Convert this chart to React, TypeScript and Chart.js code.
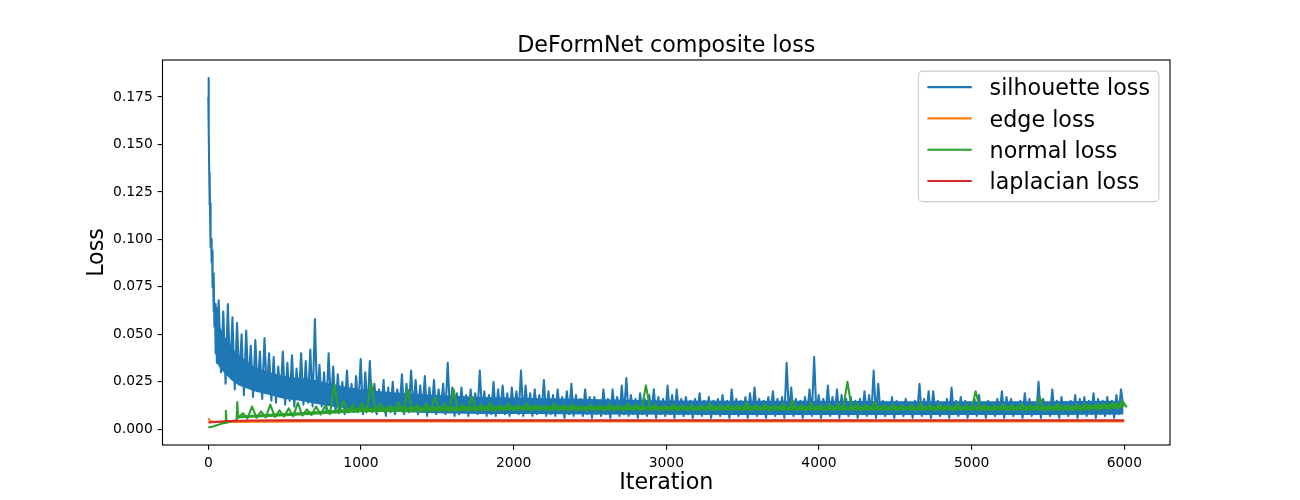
import React, { useEffect, useRef } from "react";
import { Chart, registerables } from "chart.js";

Chart.register(...registerables);

const chartTitle = "DeFormNet composite loss";
const xLabel = "Iteration";
const yLabel = "Loss";
const seriesNames = ["silhouette loss", "edge loss", "normal loss", "laplacian loss"];
const seriesColors = ["#1f77b4", "#ff7f0e", "#2ca02c", "#d62728"];
const xTicks = [0, 1000, 2000, 3000, 4000, 5000, 6000];
const yTicks = [0, 0.025, 0.05, 0.075, 0.1, 0.125, 0.15, 0.175];

// silhouette loss: first iterations, read point by point
const silHeadIter = [0, 1, 2, 3, 4, 6, 8, 10, 12, 14, 16, 19, 22, 25, 28, 31, 34, 37, 40, 44, 48, 52, 56];
const silHeadLoss = [0.175, 0.185, 0.176, 0.172, 0.158, 0.135, 0.118, 0.131, 0.112, 0.119, 0.096, 0.1, 0.088, 0.094, 0.075, 0.082, 0.062, 0.08, 0.054, 0.066, 0.04, 0.064, 0.035];
// silhouette loss afterwards: peak and trough of every 30-iteration window from iteration 60
const silWindowStart = 60;
const silWindow = 30;
const silPeak = [
  0.068, 0.062, 0.066, 0.059, 0.056, 0.05, 0.052, 0.044, 0.047, 0.041, 0.048, 0.04,
  0.038, 0.033, 0.041, 0.035, 0.039, 0.032, 0.04, 0.036, 0.042, 0.058,
  0.034, 0.03, 0.04, 0.033, 0.029, 0.025, 0.031, 0.024, 0.028, 0.037,
  0.03, 0.036, 0.024, 0.021, 0.026, 0.022, 0.025, 0.021, 0.029, 0.024,
  0.031, 0.026, 0.023, 0.028, 0.022, 0.026, 0.021, 0.024, 0.035, 0.022,
  0.019, 0.022, 0.018, 0.021, 0.019, 0.031, 0.02, 0.018, 0.025, 0.021,
  0.023, 0.019, 0.022, 0.02, 0.031, 0.023, 0.019, 0.021, 0.018, 0.026,
  0.02, 0.018, 0.021, 0.017, 0.02, 0.024, 0.018, 0.016, 0.021, 0.017,
  0.017, 0.015, 0.021, 0.016, 0.021, 0.017, 0.023, 0.027, 0.018, 0.016,
  0.019, 0.016, 0.018, 0.021, 0.017, 0.016, 0.023, 0.018, 0.021, 0.016,
  0.017, 0.015, 0.016, 0.019, 0.015, 0.017, 0.015, 0.016, 0.018, 0.015,
  0.021, 0.016, 0.015, 0.017, 0.019, 0.022, 0.016, 0.015, 0.017, 0.02,
  0.016, 0.017, 0.035, 0.022, 0.016, 0.015, 0.017, 0.021, 0.038, 0.018,
  0.016, 0.023, 0.017, 0.021, 0.018, 0.016, 0.017, 0.015, 0.016, 0.02,
  0.018, 0.031, 0.024, 0.015, 0.014, 0.017, 0.015, 0.014, 0.016, 0.014,
  0.015, 0.024, 0.016, 0.02, 0.02, 0.015, 0.014, 0.016, 0.022, 0.015,
  0.017, 0.015, 0.014, 0.016, 0.018, 0.014, 0.015, 0.014, 0.016, 0.02,
  0.017, 0.016, 0.014, 0.015, 0.019, 0.016, 0.014, 0.025, 0.016, 0.014,
  0.021, 0.015, 0.017, 0.014, 0.015, 0.018, 0.016, 0.017, 0.015, 0.019,
  0.016, 0.015, 0.017, 0.015, 0.018, 0.021,
];
const silTrough = [
  0.03, 0.024, 0.028, 0.021, 0.026, 0.018, 0.022, 0.017, 0.02, 0.016, 0.019, 0.015,
  0.014, 0.017, 0.013, 0.015, 0.012, 0.016, 0.013, 0.014, 0.012, 0.015,
  0.012, 0.01, 0.013, 0.009, 0.011, 0.008, 0.01, 0.009, 0.011, 0.008,
  0.01, 0.009, 0.008, 0.01, 0.007, 0.009, 0.008, 0.01, 0.008, 0.009,
  0.01, 0.008, 0.009, 0.007, 0.009, 0.008, 0.01, 0.008, 0.009, 0.007,
  0.008, 0.009, 0.007, 0.009, 0.008, 0.009, 0.007, 0.008, 0.007, 0.009,
  0.008, 0.007, 0.009, 0.008, 0.007, 0.009, 0.007, 0.008, 0.009, 0.007,
  0.008, 0.007, 0.009, 0.006, 0.008, 0.007, 0.009, 0.007, 0.008, 0.006,
  0.008, 0.007, 0.008, 0.006, 0.009, 0.007, 0.008, 0.007, 0.008, 0.006,
  0.008, 0.007, 0.009, 0.006, 0.008, 0.007, 0.008, 0.006, 0.008, 0.007,
  0.008, 0.006, 0.008, 0.007, 0.008, 0.006, 0.008, 0.007, 0.008, 0.006,
  0.008, 0.007, 0.008, 0.006, 0.008, 0.007, 0.008, 0.006, 0.008, 0.007,
  0.008, 0.006, 0.008, 0.007, 0.008, 0.006, 0.008, 0.007, 0.008, 0.006,
  0.008, 0.007, 0.008, 0.006, 0.008, 0.007, 0.008, 0.006, 0.008, 0.007,
  0.008, 0.006, 0.008, 0.007, 0.008, 0.006, 0.008, 0.007, 0.008, 0.006,
  0.008, 0.007, 0.008, 0.006, 0.008, 0.007, 0.008, 0.006, 0.008, 0.007,
  0.008, 0.006, 0.008, 0.007, 0.008, 0.006, 0.008, 0.007, 0.008, 0.006,
  0.008, 0.007, 0.008, 0.006, 0.008, 0.007, 0.008, 0.006, 0.008, 0.007,
  0.008, 0.006, 0.008, 0.007, 0.008, 0.006, 0.008, 0.007, 0.008, 0.006,
  0.008, 0.007, 0.008, 0.006, 0.008, 0.012,
];
// the part of the silhouette band that reads as solid blue
const silCoreIter = [50, 70, 100, 150, 200, 300, 400, 500, 600, 700, 800, 1000, 1200, 1500, 1800, 2100, 2500, 3000, 3500, 4000, 4500, 5000, 5500, 5995];
const silCoreLow = [0.036, 0.033, 0.03, 0.026, 0.023, 0.02, 0.018, 0.016, 0.015, 0.0135, 0.012, 0.0102, 0.0092, 0.0085, 0.008, 0.008, 0.0078, 0.0076, 0.0075, 0.0075, 0.0075, 0.0075, 0.0075, 0.0078];
const silCoreHigh = [0.058, 0.055, 0.05, 0.043, 0.039, 0.033, 0.03, 0.028, 0.027, 0.026, 0.024, 0.021, 0.0195, 0.018, 0.017, 0.0165, 0.016, 0.0152, 0.015, 0.015, 0.0148, 0.0148, 0.0148, 0.015];

// normal loss: first iterations, then peak and trough of every 60-iteration window from 210
const normHeadIter = [0, 30, 60, 90, 110, 115, 120, 150, 185, 190, 195];
const normHeadLoss = [0.0009, 0.0015, 0.0022, 0.003, 0.0034, 0.0098, 0.0035, 0.0042, 0.0048, 0.0144, 0.006];
const normWindowStart = 210;
const normWindow = 60;
const normPeak = [
  0.0085, 0.012, 0.0095, 0.013, 0.01, 0.011, 0.014, 0.0105, 0.012, 0.0125,
  0.0235, 0.015, 0.013, 0.014, 0.025, 0.0135, 0.0125, 0.014, 0.021, 0.013,
  0.0135, 0.017, 0.0135, 0.021, 0.013, 0.017, 0.013, 0.014, 0.0125, 0.0135,
  0.0128, 0.0138, 0.013, 0.0125, 0.0135, 0.0128, 0.0132, 0.0125, 0.013, 0.0127,
  0.0132, 0.0127, 0.0135, 0.0128, 0.023, 0.013, 0.0125, 0.0132, 0.0127, 0.013,
  0.0125, 0.0135, 0.0128, 0.013, 0.0127, 0.014, 0.0128, 0.0132, 0.0127, 0.0135,
  0.015, 0.013, 0.014, 0.0128, 0.0132, 0.0135, 0.025, 0.0135, 0.013, 0.0145,
  0.0128, 0.0132, 0.0127, 0.013, 0.014, 0.0128, 0.0132, 0.0127, 0.0135, 0.0128,
  0.02, 0.013, 0.0127, 0.0132, 0.0128, 0.0135, 0.013, 0.017, 0.013, 0.0135,
  0.0128, 0.0132, 0.0135, 0.013, 0.0135, 0.014, 0.015,
];
const normTrough = [
  0.0056, 0.006, 0.0062, 0.0064, 0.0066, 0.0068, 0.0072, 0.0075, 0.0078, 0.008,
  0.0085, 0.0088, 0.009, 0.0089, 0.0092, 0.009, 0.0093, 0.0091, 0.0094, 0.0092,
  0.0095, 0.0094, 0.0096, 0.0095, 0.0098, 0.0097, 0.01, 0.0098, 0.0101, 0.0099,
  0.01, 0.0098, 0.0102, 0.0099, 0.0101, 0.0098, 0.01, 0.0097, 0.0101, 0.0099,
  0.01, 0.0098, 0.0102, 0.0099, 0.0101, 0.0098, 0.01, 0.0097, 0.0101, 0.0099,
  0.01, 0.0098, 0.0102, 0.0099, 0.0101, 0.0098, 0.01, 0.0097, 0.0101, 0.0099,
  0.01, 0.0098, 0.0102, 0.0099, 0.0101, 0.0098, 0.01, 0.0097, 0.0101, 0.0099,
  0.01, 0.0098, 0.0102, 0.0099, 0.0101, 0.0098, 0.01, 0.0097, 0.0101, 0.0099,
  0.01, 0.0098, 0.0102, 0.0099, 0.0101, 0.0098, 0.01, 0.0097, 0.0101, 0.0099,
  0.01, 0.0098, 0.0102, 0.0102, 0.0105, 0.0108, 0.0115,
];
// the part of the normal-loss band that reads as solid green
const normCoreIter = [200, 400, 600, 800, 1000, 1300, 1600, 2000, 3000, 4000, 5000, 5700, 5995];
const normCoreLow = [0.0058, 0.0065, 0.0072, 0.0082, 0.009, 0.0093, 0.0097, 0.01, 0.01, 0.01, 0.01, 0.01, 0.0112];
const normCoreHigh = [0.0072, 0.0082, 0.009, 0.01, 0.0115, 0.0118, 0.012, 0.0122, 0.0122, 0.0122, 0.0122, 0.0124, 0.0138];

// edge loss and laplacian loss (nearly flat)
const edgeIter = [0, 10, 30, 60, 100, 200, 400, 700, 1000, 1500, 2000, 2500, 3000, 3500, 4000, 4500, 5000, 5500, 5999];
const edgeLoss = [0.0058, 0.0045, 0.004, 0.0038, 0.0038, 0.0039, 0.004, 0.0041, 0.0041, 0.0041, 0.0041, 0.0041, 0.0041, 0.0041, 0.0041, 0.0041, 0.0041, 0.0041, 0.0041];
const lapIter = [0, 20, 50, 100, 150, 200, 300, 500, 1000, 2000, 3000, 4000, 5000, 5999];
const lapLoss = [0.0036, 0.0037, 0.0039, 0.0042, 0.0044, 0.0045, 0.0046, 0.0047, 0.0047, 0.0047, 0.0047, 0.0047, 0.0047, 0.0047];

const FONT = "'DejaVu Sans', sans-serif";
const PT = 100 / 72;
const BIG = 16 * PT;
const SMALL = 10 * PT;

function headPoints(iters: number[], vals: number[]) {
  return iters.map((x, i) => ({ x, y: vals[i] }));
}
function windowPoints(start: number, size: number, peaks: number[], troughs: number[]) {
  const pts: { x: number; y: number }[] = [];
  peaks.forEach((p, k) => {
    const s = start + k * size;
    pts.push({ x: s + size * 0.27, y: p });
    pts.push({ x: s + size * 0.77, y: troughs[k] });
  });
  return pts;
}

const titlePlugin = {
  id: "mplTitle",
  afterDraw(chart: any) {
    const { ctx, chartArea } = chart;
    ctx.save();
    ctx.font = `${BIG}px ${FONT}`;
    ctx.fillStyle = "#000";
    ctx.textAlign = "center";
    ctx.textBaseline = "alphabetic";
    ctx.fillText(chartTitle, (chartArea.left + chartArea.right) / 2, chartArea.top - 6 * PT);
    ctx.restore();
  },
};

const framePlugin = {
  id: "mplFrame",
  afterDatasetsDraw(chart: any) {
    const { ctx, chartArea } = chart;
    ctx.save();
    ctx.strokeStyle = "#000";
    ctx.lineWidth = 0.8 * PT;
    ctx.strokeRect(chartArea.left, chartArea.top, chartArea.right - chartArea.left, chartArea.bottom - chartArea.top);
    ctx.restore();
  },
};

const legendPlugin = {
  id: "mplLegend",
  afterDraw(chart: any) {
    const { ctx, chartArea } = chart;
    const fs = BIG;
    ctx.save();
    ctx.font = `${fs}px ${FONT}`;
    const textW = Math.max(...seriesNames.map((n) => ctx.measureText(n).width));
    const axPad = 0.5 * fs;
    const bPad = 0.4 * fs;
    const hLen = 2 * fs;
    const hTxt = 0.8 * fs;
    const rowStep = 31.3;
    const firstRow = 16;
    const w = 2 * bPad + hLen + hTxt + textW;
    const h = firstRow + rowStep * (seriesNames.length - 1) + 20.6;
    const right = chartArea.right - axPad;
    const top = chartArea.top + axPad;
    const left = right - w;
    const r = 0.2 * fs;
    ctx.beginPath();
    ctx.moveTo(left + r, top);
    ctx.lineTo(right - r, top);
    ctx.arcTo(right, top, right, top + r, r);
    ctx.lineTo(right, top + h - r);
    ctx.arcTo(right, top + h, right - r, top + h, r);
    ctx.lineTo(left + r, top + h);
    ctx.arcTo(left, top + h, left, top + h - r, r);
    ctx.lineTo(left, top + r);
    ctx.arcTo(left, top, left + r, top, r);
    ctx.closePath();
    ctx.fillStyle = "rgba(255,255,255,0.8)";
    ctx.fill();
    ctx.strokeStyle = "#cccccc";
    ctx.lineWidth = 0.8 * PT;
    ctx.stroke();
    seriesNames.forEach((name, i) => {
      const y = top + firstRow + i * rowStep;
      ctx.beginPath();
      ctx.moveTo(left + bPad, y);
      ctx.lineTo(left + bPad + hLen, y);
      ctx.strokeStyle = seriesColors[i];
      ctx.lineWidth = 1.5 * PT;
      ctx.stroke();
      ctx.fillStyle = "#000";
      ctx.textAlign = "left";
      ctx.textBaseline = "alphabetic";
      ctx.fillText(name, left + bPad + hLen + hTxt, y + 8.3);
    });
    ctx.restore();
  },
};

export default function App() {
  const ref = useRef<HTMLCanvasElement>(null);
  useEffect(() => {
    if (!ref.current) return;
    const silhouette = [
      ...headPoints(silHeadIter, silHeadLoss),
      ...windowPoints(silWindowStart, silWindow, silPeak, silTrough),
    ];
    const normal = [
      ...headPoints(normHeadIter, normHeadLoss),
      ...windowPoints(normWindowStart, normWindow, normPeak, normTrough),
    ];
    const lineStyle = {
      borderWidth: 1.5 * PT,
      pointRadius: 0,
      tension: 0,
      fill: false,
      borderJoinStyle: "round" as const,
    };
    const band = (iters: number[], vals: number[], color: string, order: number, fillPrev: boolean) => ({
      data: headPoints(iters, vals),
      borderWidth: 0,
      borderColor: "rgba(0,0,0,0)",
      backgroundColor: color,
      pointRadius: 0,
      tension: 0,
      fill: fillPrev ? "-1" : false,
      order,
    });
    const chart = new Chart(ref.current, {
      type: "line",
      data: {
        datasets: [
          band(silCoreIter, silCoreLow, seriesColors[0], 12, false),
          band(silCoreIter, silCoreHigh, seriesColors[0], 12, true),
          { label: seriesNames[0], data: silhouette, borderColor: seriesColors[0], order: 11, ...lineStyle },
          { label: seriesNames[1], data: headPoints(edgeIter, edgeLoss), borderColor: seriesColors[1], order: 10, ...lineStyle },
          band(normCoreIter, normCoreLow, seriesColors[2], 9, false),
          band(normCoreIter, normCoreHigh, seriesColors[2], 9, true),
          { label: seriesNames[2], data: normal, borderColor: seriesColors[2], order: 8, ...lineStyle },
          { label: seriesNames[3], data: headPoints(lapIter, lapLoss), borderColor: seriesColors[3], order: 7, ...lineStyle },
        ] as any,
      },
      options: {
        animation: false,
        responsive: false,
        events: [],
        layout: { padding: { top: 60, right: 130, bottom: 0, left: 0 } },
        plugins: {
          legend: { display: false },
          title: { display: false },
          tooltip: { enabled: false },
        },
        scales: {
          x: {
            type: "linear",
            min: -300,
            max: 6299,
            afterBuildTicks: (axis: any) => {
              axis.ticks = xTicks.map((v) => ({ value: v }));
            },
            afterFit: (axis: any) => {
              axis.height = 55;
            },
            border: { display: false },
            grid: {
              display: true,
              drawOnChartArea: false,
              drawTicks: true,
              tickLength: 3.5 * PT,
              color: "#000",
              lineWidth: 0.8 * PT,
            },
            ticks: {
              autoSkip: false,
              maxRotation: 0,
              padding: 3.5 * PT,
              color: "#000",
              font: { family: FONT, size: SMALL },
              callback: (v: any) => String(v),
            },
            title: {
              display: true,
              text: xLabel,
              color: "#000",
              font: { family: FONT, size: BIG, lineHeight: 1.2 },
              padding: { top: 0, bottom: 3.5 },
            },
          },
          y: {
            type: "linear",
            min: -0.00827,
            max: 0.19448,
            afterBuildTicks: (axis: any) => {
              axis.ticks = yTicks.map((v) => ({ value: v }));
            },
            afterFit: (axis: any) => {
              axis.width = 162.5;
            },
            border: { display: false },
            grid: {
              display: true,
              drawOnChartArea: false,
              drawTicks: true,
              tickLength: 3.5 * PT,
              color: "#000",
              lineWidth: 0.8 * PT,
            },
            ticks: {
              autoSkip: false,
              padding: 3.5 * PT,
              color: "#000",
              font: { family: FONT, size: SMALL },
              callback: (v: any) => Number(v).toFixed(3),
            },
            title: {
              display: true,
              text: yLabel,
              color: "#000",
              font: { family: FONT, size: BIG, lineHeight: 1.2 },
              padding: { top: 83.7, bottom: 0 },
            },
          },
        },
      },
      plugins: [framePlugin, titlePlugin, legendPlugin],
    });
    return () => chart.destroy();
  }, []);
  return (
    <div style={{ position: "absolute", left: 0, top: 0, width: 1300, height: 500, background: "#fff" }}>
      <canvas ref={ref} width={1300} height={500} style={{ display: "block", width: 1300, height: 500 }} />
    </div>
  );
}
